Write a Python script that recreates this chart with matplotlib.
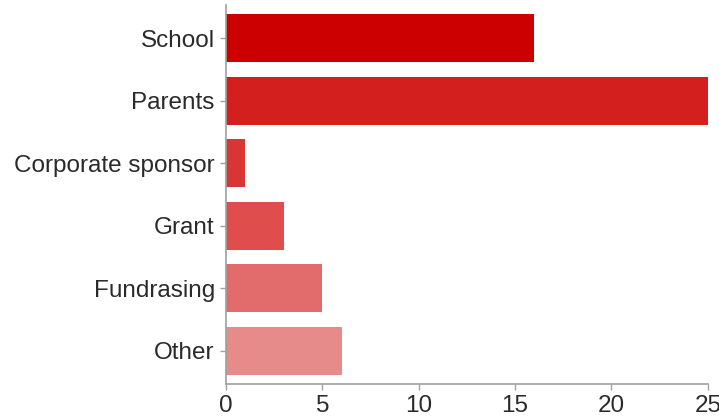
import matplotlib
matplotlib.use("Agg")
import matplotlib.pyplot as plt

categories = ["School", "Parents", "Corporate sponsor", "Grant", "Fundrasing", "Other"]
values = [16, 25, 1, 3, 5, 6]
bar_colors = ["#cc0000", "#d41f1f", "#d93535", "#df4d4d", "#e26b6b", "#e78a8a"]
x_ticks = [0, 5, 10, 15, 20, 25]

plt.rcParams["font.family"] = ["Liberation Sans", "DejaVu Sans"]

fig = plt.figure(figsize=(7.19, 4.19), dpi=100)
ax = fig.add_axes([0.3143, 0.0835, 0.6702, 0.9045])

ypos = list(range(len(categories)))
ax.barh(ypos, values, height=0.77, color=bar_colors, edgecolor="none", zorder=2)

ax.set_xlim(0, 25)
ax.set_ylim(5.53, -0.53)
ax.set_yticks(ypos)
ax.set_yticklabels(categories)
ax.set_xticks(x_ticks)

for side in ("top", "right"):
    ax.spines[side].set_visible(False)
for side in ("left", "bottom"):
    ax.spines[side].set_color("#a0a0a0")
    ax.spines[side].set_linewidth(1.2)

ax.tick_params(axis="both", colors="#a0a0a0", length=4, width=1, labelsize=17.5,
               labelcolor="#2a2a2a")
ax.tick_params(axis="y", pad=4)
ax.tick_params(axis="x", pad=4)

fig.savefig("out.png", dpi=100)
